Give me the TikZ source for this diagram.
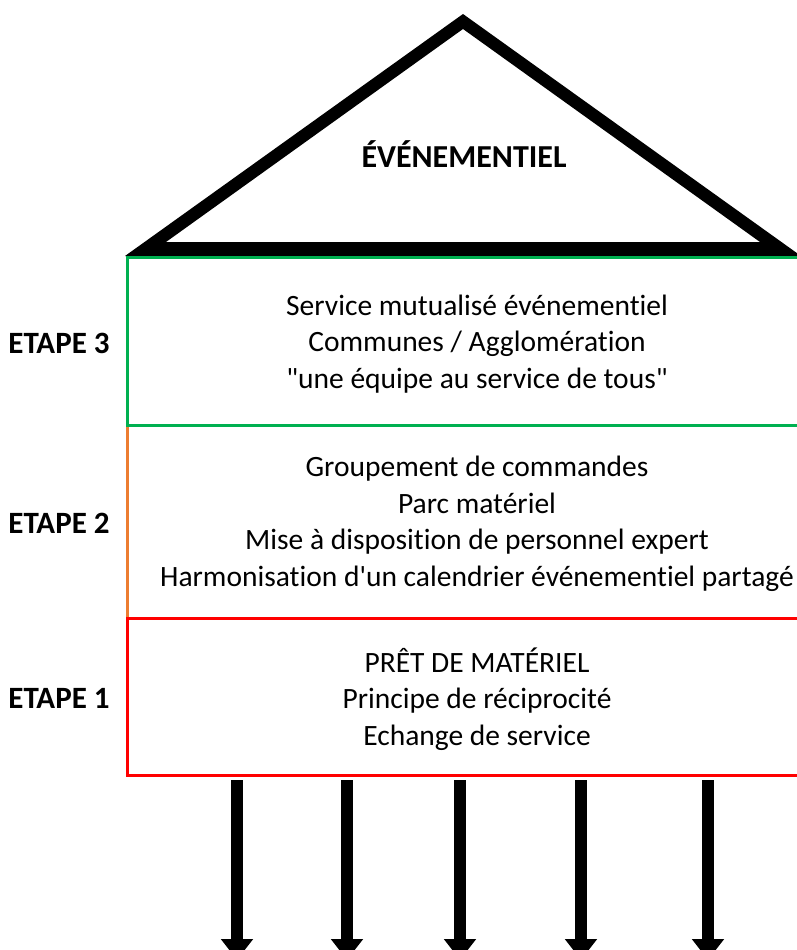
\documentclass[tikz,border=0pt]{standalone}
\usepackage{fontspec}
\newfontfamily\calib{Carlito}[Ligatures=NoCommon]
\usetikzlibrary{arrows.meta}
\definecolor{stepgreen}{HTML}{00B050}
\definecolor{steporange}{HTML}{ED7D31}
\definecolor{stepred}{HTML}{FF0000}
\tikzset{every picture/.style={line width=0.75pt}}

\begin{document}
\begin{tikzpicture}[x=1pt,y=1pt,yscale=-1,xscale=1,
  stage/.style={line width=3pt},
  stagetext/.style={align=center,font=\calib\fontsize{29.5}{36.5}\selectfont,inner sep=0pt},
  etape/.style={font=\calib\fontsize{31}{33}\selectfont\bfseries,inner sep=0pt},
  pillar/.style={line width=12pt,-{Triangle[width=31pt,length=21pt]}}]
\useasboundingbox (0,0) rectangle (797,950);
\clip (0,0) rectangle (797,950);

%Shape: Triangle (roof)
\fill[even odd rule] (125,256) -- (463,14) -- (801,256) -- cycle
  (166,242) -- (463,29) -- (760,242) -- cycle;

%Shape: Rectangle
\draw[stage, steporange] (127,425.5) rectangle (830,618);
%Shape: Rectangle
\draw[stage, stepgreen] (127,257.5) rectangle (830,425.5);
%Shape: Rectangle
\draw[stage, stepred] (127,618) rectangle (830,775);

% Text Node
\node[anchor=base, inner sep=0pt, font=\calib\fontsize{32}{34}\selectfont\bfseries] (roof) at (464,167) {ÉVÉNEMENTIEL};

% Text Node
\node[stagetext] (stage3) at (477,344) {Service mutualisé événementiel\\Communes / Agglomération\\"une équipe au service de tous"};
% Text Node
\node[stagetext] (stage2) at (477,524) {Groupement de commandes\\Parc matériel\\Mise à disposition de personnel expert\\Harmonisation d'un calendrier événementiel partagé};
% Text Node
\node[stagetext] (stage1) at (477,699) {PRÊT DE MATÉRIEL\\Principe de réciprocité\\Echange de service};

% Text Node
\node[etape] (etape3) at (59,343) {ETAPE 3};
% Text Node
\node[etape] (etape2) at (59,523) {ETAPE 2};
% Text Node
\node[etape] (etape1) at (59,698) {ETAPE 1};

%Straight Lines
\coordinate (top1) at (237,780);
\coordinate (tip1) at (237,960);
\draw[pillar] (top1) -- (tip1);
%Straight Lines
\coordinate (top2) at (347,780);
\coordinate (tip2) at (347,960);
\draw[pillar] (top2) -- (tip2);
%Straight Lines
\coordinate (top3) at (460,780);
\coordinate (tip3) at (460,960);
\draw[pillar] (top3) -- (tip3);
%Straight Lines
\coordinate (top4) at (581,780);
\coordinate (tip4) at (581,960);
\draw[pillar] (top4) -- (tip4);
%Straight Lines
\coordinate (top5) at (708,780);
\coordinate (tip5) at (708,960);
\draw[pillar] (top5) -- (tip5);

\end{tikzpicture}
\end{document}
